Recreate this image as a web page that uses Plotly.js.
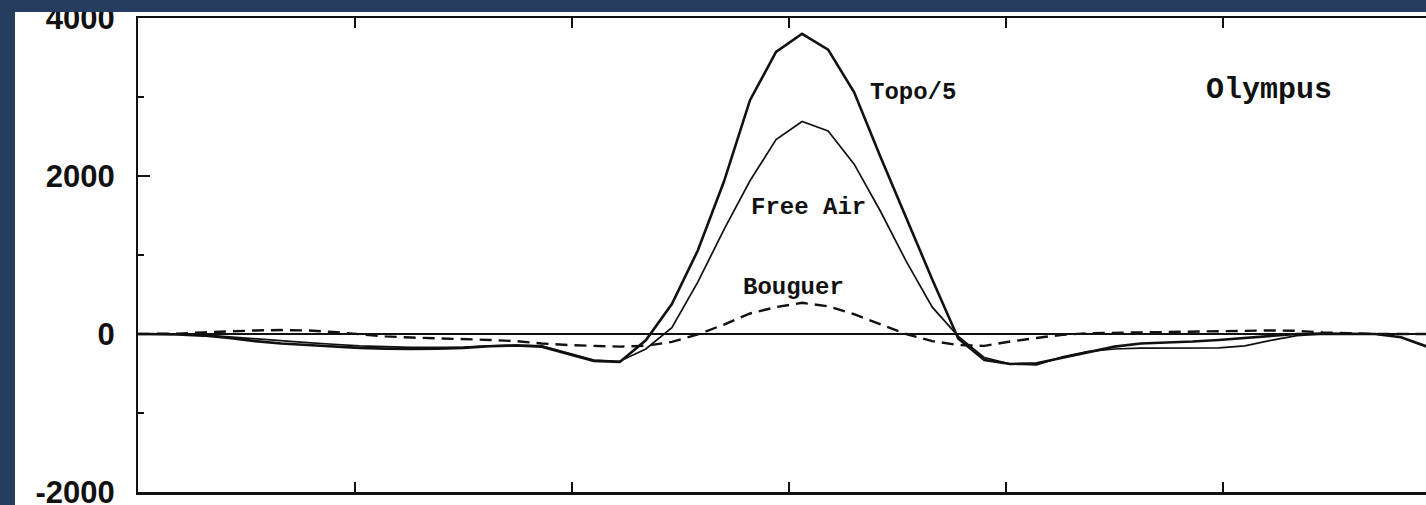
<!DOCTYPE html>
<html>
<head>
<meta charset="utf-8">
<script src="https://cdn.plot.ly/plotly-3.0.1.min.js"></script>
<style>
html,body{margin:0;padding:0;background:#263d5f;}
#chart{width:1426px;height:505px;}
</style>
</head>
<body>
<div id="chart"></div>
<script>
// Profile position (arbitrary distance units, tick every 1)
const distance = [0, 0.06, 0.18, 0.30, 0.42, 0.54, 0.66, 0.78, 0.90, 1.02, 1.14, 1.26, 1.38, 1.50, 1.62, 1.74, 1.86, 1.98, 2.10, 2.22, 2.34, 2.46, 2.58, 2.70, 2.82, 2.94, 3.06, 3.18, 3.30, 3.42, 3.54, 3.66, 3.78, 3.90, 4.02, 4.14, 4.26, 4.38, 4.50, 4.62, 4.74, 4.86, 4.98, 5.10, 5.22, 5.34, 5.46, 5.58, 5.70, 5.82, 5.94];

const topo5 = [0, 0, -5, -20, -50, -90, -120, -140, -160, -175, -185, -190, -185, -175, -155, -145, -160, -250, -340, -355, -80, 380, 1060, 1930, 2960, 3570, 3800, 3600, 3060, 2250, 1460, 690, -60, -330, -380, -370, -300, -230, -160, -120, -110, -95, -75, -50, -20, 0, 5, 5, 0, -40, -160];

const freeAir = [0, 0, 0, -10, -35, -65, -90, -110, -130, -150, -160, -170, -170, -165, -150, -140, -150, -240, -330, -345, -190, 80, 660, 1320, 1940, 2460, 2690, 2570, 2150, 1560, 920, 340, -30, -300, -380, -390, -290, -220, -190, -180, -180, -180, -175, -150, -80, -20, 0, 0, 0, 0, 0];

const bouguer = [0, 0, 5, 20, 35, 45, 50, 45, 25, 0, -30, -45, -55, -60, -75, -90, -120, -140, -150, -160, -150, -100, -5, 120, 260, 340, 395, 350, 250, 130, 0, -90, -140, -150, -95, -50, -10, 10, 15, 20, 25, 30, 35, 40, 45, 40, 20, 10, 0, 0, 0];

const yTickVals = [-2000, 0, 2000, 4000];
const yTickText = ["-2000", "0", "2000", "4000"];
const xTickVals = [1, 2, 3, 4, 5];

const labels = [
  {text: "Topo/5", x: 3.57, y: 3060, size: 24},
  {text: "Free Air", x: 3.09, y: 1600, size: 24},
  {text: "Bouguer", x: 3.02, y: 595, size: 24},
  {text: "Olympus", x: 5.21, y: 3090, size: 30}
];

const traces = [
  {x: distance, y: topo5, type: "scatter", mode: "lines", name: "Topo/5",
   line: {color: "#111", width: 2.6}},
  {x: distance, y: freeAir, type: "scatter", mode: "lines", name: "Free Air",
   line: {color: "#111", width: 1.7}},
  {x: distance, y: bouguer, type: "scatter", mode: "lines", name: "Bouguer",
   line: {color: "#111", width: 2.4, dash: "12px,7px"}}
];

const layout = {
  width: 1426, height: 505,
  margin: {l: 138, r: 0, t: 18, b: 13, pad: 0},
  paper_bgcolor: "#263d5f",
  plot_bgcolor: "#ffffff",
  showlegend: false,
  xaxis: {
    range: [0, 5.935],
    tickmode: "array", tickvals: xTickVals,
    showticklabels: false,
    ticks: "inside", ticklen: 10, tickwidth: 1.5, tickcolor: "#111",
    showline: true, linecolor: "#111", linewidth: 2.5, mirror: "ticks",
    showgrid: false, zeroline: false
  },
  yaxis: {
    range: [-2000, 4000],
    tickmode: "array", tickvals: yTickVals, ticktext: yTickText,
    ticks: "inside", ticklen: 12, tickwidth: 1.5, tickcolor: "#111",
    minor: {tickmode: "linear", tick0: 0, dtick: 1000, ticks: "inside", ticklen: 6, tickwidth: 1.5, tickcolor: "#111", showgrid: false},
    ticklabelstandoff: 15,
    ticklabeloverflow: "allow",
    tickfont: {family: "Liberation Sans, Arial, sans-serif", size: 31, color: "#111", weight: "bold"},
    showline: true, linecolor: "#111", linewidth: 2, mirror: false,
    showgrid: false,
    zeroline: true, zerolinecolor: "#111", zerolinewidth: 2
  },
  shapes: [
    {type: "rect", xref: "paper", yref: "paper", layer: "below",
     x0: -0.0955, x1: 1.01, y0: -0.1, y1: 1.0127,
     fillcolor: "#ffffff", line: {width: 0}},
    {type: "rect", xref: "paper", yref: "paper", layer: "above",
     x0: -0.11, x1: 1.01, y0: 1.0127, y1: 1.06,
     fillcolor: "#263d5f", line: {width: 0}}
  ],
  annotations: labels.map(l => ({
    text: l.text, x: l.x, y: l.y, xref: "x", yref: "y",
    showarrow: false, xanchor: "center", yanchor: "middle",
    font: {family: "Liberation Mono, Courier New, monospace", size: l.size, color: "#111", weight: "bold"}
  }))
};

Plotly.newPlot("chart", traces, layout, {displayModeBar: false, staticPlot: true});
</script>
</body>
</html>
